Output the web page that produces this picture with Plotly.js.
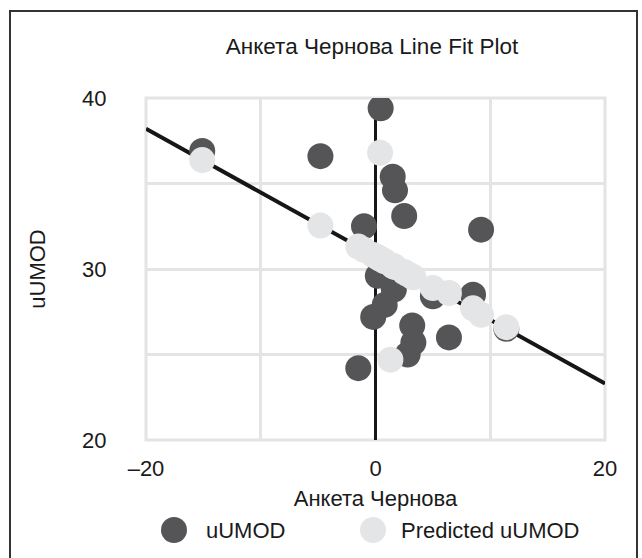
<!DOCTYPE html>
<html>
<head>
<meta charset="utf-8">
<script src="https://cdn.plot.ly/plotly-3.0.1.min.js"></script>
<style>html,body{margin:0;padding:0;background:#fff;}#chart{width:642px;height:558px;}</style>
</head>
<body>
<div id="chart"></div>
<script>
// Observed values (Анкета Чернова vs uUMOD)
var obsX = [-15.1, -4.8, -1.0, 0.45, 1.5, 1.7, 2.5, 9.2, 0.2, 1.6, -0.2, 0.8, 3.2, 3.3, 2.8, -1.5, 6.4, 5.0, 8.5, 11.4];
var obsY = [36.9, 36.6, 32.5, 39.4, 35.4, 34.6, 33.1, 32.3, 29.6, 28.8, 27.2, 27.9, 26.7, 25.7, 25.0, 24.2, 26.0, 28.4, 28.5, 26.5];
// Predicted values (light points)
var predX = [-15.1, -4.8, -1.0, 0.45, 1.5, 1.7, 2.5, 9.2, 0.2, 1.6, -0.2, 0.8, 3.2, 3.3, 2.8, -1.5, 6.4, 5.0, 8.5, 11.4, 0.4, 1.3];
var predY = [36.37, 32.54, 31.12, 30.58, 30.19, 30.12, 29.82, 27.32, 30.68, 30.15, 30.82, 30.45, 29.56, 29.52, 29.71, 31.31, 28.6, 28.89, 27.7, 26.6, 36.8, 24.7];
// Fitted line end points
var lineX = [-20, 20];
var lineY = [38.2, 23.3];
// Ticks
var xTickVals = [-20, -10, 0, 10, 20];
var xTickText = ['\u201320', '', '0', '', '20'];
var yTickVals = [20, 25, 30, 35, 40];
var yTickText = ['20', '', '30', '', '40'];
var seriesNames = ['uUMOD', 'Predicted uUMOD'];

var darkC = '#555557';
var lightC = '#e4e5e7';
var FONT = '"Liberation Sans Narrow", "Liberation Sans", Arial, sans-serif';
var FS = 22;

var traces = [
  {x: lineX, y: lineY, mode: 'lines', line: {color: '#161616', width: 4}, showlegend: false, hoverinfo: 'skip'},
  {x: obsX, y: obsY, mode: 'markers', name: seriesNames[0], marker: {color: darkC, size: 26}, showlegend: false},
  {x: predX, y: predY, mode: 'markers', name: seriesNames[1], marker: {color: lightC, size: 26}, showlegend: false}
];

var L = 146, R = 37, T = 98, B = 118;
var W = 642, H = 558;
var pw = W - L - R, ph = H - T - B;
function px2x(p) { return (p - L) / pw; }
function py2y(p) { return (H - B - p) / ph; }

var legY = py2y(530);
var layout = {
  width: W, height: H,
  margin: {l: L, r: R, t: T, b: B},
  paper_bgcolor: '#fff', plot_bgcolor: '#fff',
  font: {family: FONT, color: '#1a1a1a', size: FS},
  title: {text: 'Анкета Чернова Line Fit Plot', x: px2x(372), xref: 'paper', xanchor: 'center', y: 1 - 46 / H, yanchor: 'middle', font: {family: FONT, size: 22.5, color: '#1a1a1a'}},
  xaxis: {
    range: [-20, 20], tickvals: xTickVals, ticktext: xTickText,
    showgrid: true, gridcolor: '#e4e4e4', gridwidth: 3,
    zeroline: true, zerolinecolor: '#161616', zerolinewidth: 3,
    showline: false, ticks: 'outside', ticklen: 9, tickcolor: 'rgba(0,0,0,0)',
    tickfont: {family: FONT, size: FS, color: '#1a1a1a'},
    title: {text: 'Анкета Чернова', font: {family: FONT, size: FS, color: '#1a1a1a'}, standoff: 10}
  },
  yaxis: {
    range: [20, 40], tickvals: yTickVals, ticktext: yTickText,
    showgrid: true, gridcolor: '#e4e4e4', gridwidth: 3,
    zeroline: false, showline: false,
    ticks: 'outside', ticklen: 34, tickcolor: 'rgba(0,0,0,0)',
    tickfont: {family: FONT, size: FS, color: '#1a1a1a'},
    title: {text: 'uUMOD', font: {family: FONT, size: FS, color: '#1a1a1a'}, standoff: 30}
  },
  showlegend: false,
  shapes: [
    {type: 'rect', xref: 'paper', yref: 'paper', x0: 0, x1: 1, y0: 0, y1: 1, line: {color: '#e4e4e4', width: 3}, layer: 'below'},
    {type: 'path', xref: 'paper', yref: 'paper',
      path: 'M ' + px2x(10) + ' ' + py2y(580) + ' L ' + px2x(10) + ' ' + py2y(11) + ' L ' + px2x(637) + ' ' + py2y(11) + ' L ' + px2x(637) + ' ' + py2y(580),
      line: {color: '#333', width: 2}},
    {type: 'circle', xref: 'paper', yref: 'paper', xsizemode: 'pixel', ysizemode: 'pixel',
      xanchor: px2x(174), yanchor: legY, x0: -13, x1: 13, y0: -13, y1: 13, fillcolor: darkC, line: {width: 0}},
    {type: 'circle', xref: 'paper', yref: 'paper', xsizemode: 'pixel', ysizemode: 'pixel',
      xanchor: px2x(373), yanchor: legY, x0: -13, x1: 13, y0: -13, y1: 13, fillcolor: lightC, line: {width: 0}}
  ],
  annotations: [
    {text: seriesNames[0], xref: 'paper', yref: 'paper', x: px2x(204), y: legY, xanchor: 'left', yanchor: 'middle', showarrow: false, font: {family: FONT, size: FS, color: '#1a1a1a'}},
    {text: seriesNames[1], xref: 'paper', yref: 'paper', x: px2x(399), y: legY, xanchor: 'left', yanchor: 'middle', showarrow: false, font: {family: FONT, size: FS, color: '#1a1a1a'}}
  ]
};

Plotly.newPlot('chart', traces, layout, {displayModeBar: false, staticPlot: true});
</script>
</body>
</html>
